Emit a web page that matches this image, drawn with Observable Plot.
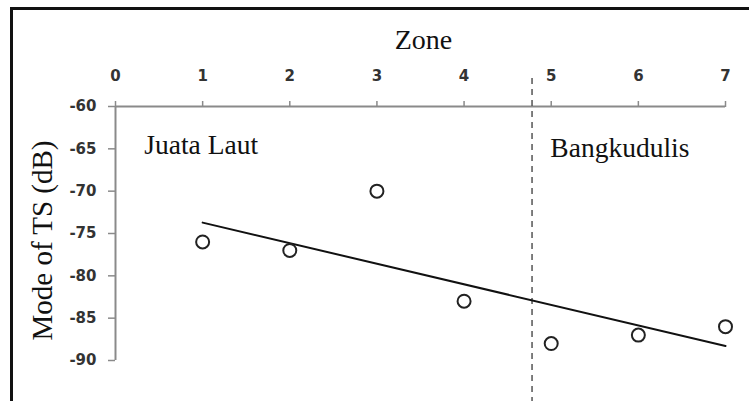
<!DOCTYPE html>
<html>
<head>
<meta charset="utf-8">
<script src="https://cdn.jsdelivr.net/npm/d3@7"></script>
<script src="https://cdn.jsdelivr.net/npm/@observablehq/plot@0.6"></script>
<style>
  html, body { margin: 0; padding: 0; background: #fff; }
  #wrap { position: relative; width: 749px; height: 401px; overflow: hidden; }
  #frame { position: absolute; left: 10px; top: 7px; right: -5px; bottom: -5px;
           border-top: 3px solid #111; border-left: 3px solid #111; pointer-events: none; }
</style>
</head>
<body>
<div id="wrap"><div id="frame"></div></div>
<script>
const zones = [1, 2, 3, 4, 5, 6, 7];
const modeTS = [-76, -77, -70, -83, -88, -87, -86];
const xTicks = [0, 1, 2, 3, 4, 5, 6, 7];
const yTicks = [-60, -65, -70, -75, -80, -85, -90];
const boundaryZone = [4.78];
const regionNames = ["Juata Laut", "Bangkudulis"];
const regionZone = [0.33, 4.99];
const regionDb = [-64.6, -64.9];
const xTitle = "Zone";
const yTitle = "Mode of TS (dB)";

const points = zones.map((z, i) => ({zone: z, ts: modeTS[i]}));
const regions = regionNames.map((n, i) => ({name: n, zone: regionZone[i], ts: regionDb[i]}));

const serif = "'Liberation Serif', 'Times New Roman', serif";
const sans = "'DejaVu Sans', 'Open Sans', sans-serif";

const chart = Plot.plot({
  width: 749,
  height: 401,
  marginLeft: 115,
  marginRight: 24,
  marginTop: 106,
  marginBottom: 41,
  style: {background: "transparent", overflow: "visible", fontSize: "15px",
          fontFamily: sans, fontWeight: "bold", color: "#333"},
  x: {domain: [0, 7]},
  y: {domain: [-90, -60]},
  marks: [
    Plot.ruleY([-60], {stroke: "#8a8a8a", strokeWidth: 2}),
    Plot.ruleX([0], {stroke: "#8a8a8a", strokeWidth: 2}),
    Plot.axisX({anchor: "top", ticks: xTicks, tickSize: 6, tickPadding: 20, label: null,
      stroke: "#8a8a8a", strokeWidth: 1.5, fill: "#333",
      fontSize: 15, fontWeight: "bold", fontFamily: sans, tickFormat: d => `${d}`}),
    Plot.axisY({anchor: "left", ticks: yTicks, tickSize: 7, tickPadding: 12, label: null,
      stroke: "#8a8a8a", strokeWidth: 1.5, fill: "#333",
      fontSize: 15, fontWeight: "bold", fontFamily: sans, tickFormat: d => `${d}`}),
    Plot.ruleX(boundaryZone, {y1: -56.7, y2: -96, stroke: "#555", strokeWidth: 1.5, strokeDasharray: "6,5"}),
    Plot.linearRegressionY(points, {x: "zone", y: "ts", stroke: "#111", strokeWidth: 2, ci: 0}),
    Plot.dot(points, {x: "zone", y: "ts", r: 6.5, stroke: "#222", strokeWidth: 2, fill: "white"}),
    Plot.text(regions, {x: "zone", y: "ts", text: "name", textAnchor: "start",
      fontFamily: serif, fontWeight: "normal", fontSize: 27.5, fill: "#111"}),
    Plot.text([xTitle], {frameAnchor: "top", textAnchor: "middle", lineAnchor: "middle", dx: 3, dy: -66,
      fontFamily: serif, fontWeight: "normal", fontSize: 28, fill: "#111"}),
    Plot.text([yTitle], {frameAnchor: "left", textAnchor: "middle", lineAnchor: "middle", dx: -73, dy: 7,
      rotate: -90, fontFamily: serif, fontWeight: "normal", fontSize: 29, fill: "#111"})
  ]
});
chart.style.position = "absolute";
chart.style.left = "0px";
chart.style.top = "0px";
document.getElementById("wrap").appendChild(chart);
</script>
</body>
</html>
